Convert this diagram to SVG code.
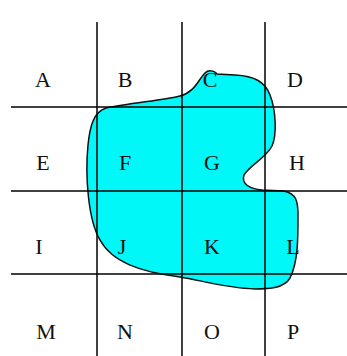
<svg xmlns="http://www.w3.org/2000/svg" width="347" height="356" viewBox="0 0 347 356">
<style>
.g{stroke:#000;stroke-width:1.5;fill:none}
.t{font-family:"Liberation Serif",serif;font-size:22px;fill:#111;text-anchor:middle}
</style>
<rect width="347" height="356" fill="#fff"/>
<g id="region">
<path d="M205,73 C208,70 214,70 217,74 L235,75 C255,76 265,82 270,95 C276,110 277,135 272,146 C266,158 250,165 244,175 C241,184 250,189 262,190 L284,191 C296,194 298,200 298,215 C298,240 298,262 290,278 C284,288 270,289 255,289 C225,288 200,280 180,277 C140,272 112,262 100,240 C88,220 85,175 88,145 C90,125 94,112 106,108 C130,103 165,100 180,96 C195,92 198,80 205,73 Z" fill="#00f8f8" stroke="#111" stroke-width="1.5"/>
</g>
<g id="grid">
<line class="g" x1="97" y1="22" x2="97" y2="356"/>
<line class="g" x1="182" y1="22" x2="182" y2="356"/>
<line class="g" x1="265" y1="22" x2="265" y2="356"/>
<line class="g" x1="11" y1="107" x2="347" y2="107"/>
<line class="g" x1="11" y1="191" x2="347" y2="191"/>
<line class="g" x1="11" y1="274" x2="347" y2="274"/>
</g>
<g id="labels">
<text class="t" x="43" y="87">A</text>
<text class="t" x="125" y="87">B</text>
<text class="t" x="210" y="87">C</text>
<text class="t" x="295" y="87">D</text>
<text class="t" x="43" y="170">E</text>
<text class="t" x="125" y="170">F</text>
<text class="t" x="212" y="170">G</text>
<text class="t" x="297" y="170">H</text>
<text class="t" x="39" y="254">I</text>
<text class="t" x="122" y="254">J</text>
<text class="t" x="212" y="254">K</text>
<text class="t" x="293" y="254">L</text>
<text class="t" x="46" y="339">M</text>
<text class="t" x="125" y="339">N</text>
<text class="t" x="212" y="339">O</text>
<text class="t" x="293" y="339">P</text>
</g>
</svg>
